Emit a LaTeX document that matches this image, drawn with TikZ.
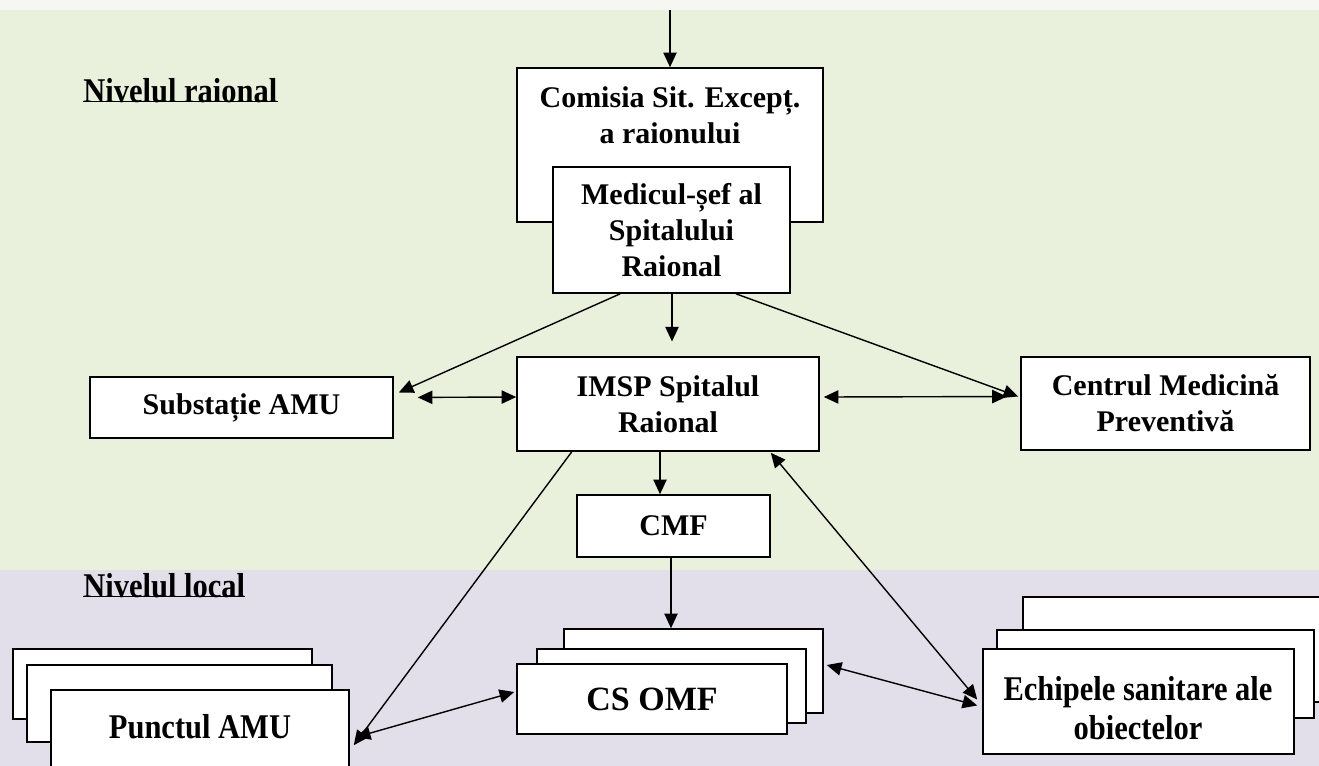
\documentclass[tikz,border=0pt]{standalone}
\usepackage{fontspec}
\setmainfont{Liberation Serif}
\newfontfamily\condfont{Liberation Serif}[FakeStretch=0.88]
\usetikzlibrary{arrows.meta,calc}
\tikzset{
  rect/.style n args={4}{minimum width={(#3-#1)*0.75pt}, minimum height={(#4-#2)*0.75pt},
    at={({(#1+#3)/2},{(#2+#4)/2})}},
  box/.style={draw=black, line width=1.2pt, fill=white, inner sep=0pt, align=center,
    font=\fontsize{22.5}{27}\selectfont\bfseries},
  cbox/.style={box, font=\fontsize{26}{29.5}\selectfont\condfont\bfseries},
  txt/.style={inner sep=0pt, align=center, font=\fontsize{22.5}{27}\selectfont\bfseries},
  lvl/.style={inner sep=0pt, anchor=west, font=\fontsize{26}{29}\selectfont\condfont\bfseries},
  tip/.tip={Triangle[length=11pt,width=10pt]},
  arr/.style={line width=1.05pt, -tip},
  darr/.style={line width=1.05pt, tip-tip},
}
\definecolor{bggreen}{HTML}{E9F0DC}
\definecolor{bglav}{HTML}{E2DEEA}
\definecolor{bgtop}{HTML}{F6F7F2}
\begin{document}
\begin{tikzpicture}[x=0.75pt,y=-0.75pt]
\useasboundingbox (0,0) rectangle (1319,766);
\clip (0,0) rectangle (1319,766);
\fill[bgtop] (0,0) rectangle (1319,10);
\fill[bggreen] (0,10) rectangle (1319,570);
\fill[bglav] (0,570) rectangle (1319,766);

% level labels
\node[lvl] (lvlr) at (83,91) {Nivelul raional};
\draw[line width=1.1pt] (lvlr.south west) ++(0,-2) coordinate (ul1) -- (ul1 -| lvlr.east);
\node[lvl] (lvll) at (83,586) {Nivelul local};
\draw[line width=1.1pt] (lvll.south west) ++(0,-2) coordinate (ul2) -- (ul2 -| lvll.east);

% top level boxes
\node[box, rect={517}{68}{823}{222}] (comisia) {};
\node[txt] (comisiatxt) at (670,115) {Comisia Sit. Excepț.\\a raionului};
\node[box, rect={553}{167}{790}{293}] (medicul) {Medicul-șef al\\Spitalului\\Raional};

\node[box, rect={517}{357}{819}{451}] (imsp) {IMSP Spitalul\\Raional};
\node[box, rect={90}{377}{393}{438}] (subst) {Substație AMU};
\node[box, rect={1021}{357}{1310}{450}] (centrul) {Centrul Medicină\\Preventivă};
\node[box, rect={577}{495}{770}{557}] (cmf) {CMF};

% stacked local boxes
\node[box, rect={564}{629}{823}{713}] (cs3) {};
\node[box, rect={537}{649}{806}{723}] (cs2) {};
\node[box, rect={517}{664}{787}{734}, font=\fontsize{25.5}{29}\selectfont\bfseries] (cs) {CS OMF};

\node[box, rect={1023}{597}{1340}{702}] (ech3) {};
\node[box, rect={997}{630}{1314}{718}] (ech2) {};
\node[box, rect={983}{649}{1294}{754}] (ech) {};
\node[cbox, draw=none, fill=none] (echtxt) at (1138,708) {Echipele sanitare ale\\obiectelor};

\node[box, rect={13}{649}{312}{719}] (pun3) {};
\node[box, rect={27}{665}{332}{742}] (pun2) {};
\node[box, rect={51}{690}{349}{800}] (pun) {};
\node[cbox, draw=none, fill=none] (puntxt) at (200,727) {Punctul AMU};

% connectors
\coordinate (topin) at (670,10);
\draw[arr] (topin) -- (comisia.north);
\draw[arr, shorten >=11pt] (medicul.south -| 672,0) -- (imsp.north -| 672,0);
\draw[arr] ($(medicul.south west)!0.285!(medicul.south east)$) -- ($(subst.east)+(5,-15)$);
\draw[arr] ($(medicul.south west)!0.77!(medicul.south east)$) -- ($(centrul.west)+(-2,-7)$);
\draw[darr, shorten <=18pt] ($(subst.east)+(0,-10)$) -- ($(imsp.west)+(0,-7)$);
\draw[darr, shorten >=10pt] ($(imsp.east)+(4,-7)$) -- ($(centrul.west)+(0,-7)$);
\draw[arr] (imsp.south -| 660,0) -- (cmf.north -| 660,0);
\draw[arr] (cmf.south -| 671,0) -- (cs3.north -| 671,0);
\draw[arr] ($(imsp.south west)!0.183!(imsp.south east)$) -- ($(pun.north east)+(4,56)$);
\draw[darr] ($(pun.north east)+(6,48)$) -- ($(cs.west)+(-2,-7)$);
\draw[darr] ($(cs3.east)+(3,-6)$) -- ($(ech.west)+(-5,4)$);
\draw[darr] ($(ech.west)+(-5,-2)$) -- ($(imsp.south east)+(-49,1)$);
\end{tikzpicture}
\end{document}
